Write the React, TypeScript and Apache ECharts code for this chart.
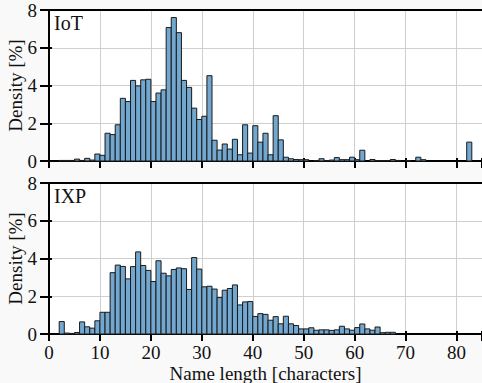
import React, { useEffect, useRef } from "react";
import * as echarts from "echarts";

// Histogram densities [%] per 1-character bin, index = bin start
const iotDensity = [
  0, 0, 0.03, 0.03, 0.03, 0.1, 0.03, 0.14, 0.05, 0.37,
  0.3, 1.47, 1.4, 1.92, 3.32, 3.15, 4.27, 3.98, 4.3, 4.33,
  3.15, 3.6, 3.77, 7.07, 7.6, 6.8, 4.27, 3.9, 2.8, 2.2,
  2.37, 4.52, 1.1, 0.58, 0.9, 0.63, 1.15, 0.33, 1.92, 0.42,
  1.87, 1.0, 1.47, 0.33, 2.4, 1.12, 0.2, 0.12, 0.08, 0.07,
  0.07, 0, 0.02, 0.12, 0.02, 0.05, 0.18, 0.07, 0.07, 0.2,
  0.07, 0.57, 0, 0.08, 0.02, 0.02, 0.02, 0.08, 0.03, 0,
  0.02, 0, 0.2, 0.07, 0, 0, 0, 0, 0, 0,
  0, 0, 1.0,
];
const ixpDensity = [
  0, 0, 0.66, 0.05, 0.03, 0.08, 0.64, 0.38, 0.31, 0.7,
  1.15, 1.15, 3.25, 3.65, 3.58, 2.92, 3.57, 4.35, 3.63, 3.37,
  2.78, 3.88, 3.22, 3.08, 3.42, 3.5, 3.46, 2.36, 4.05, 3.44,
  2.5, 2.53, 2.38, 1.93, 2.32, 2.41, 2.6, 1.54, 1.7, 1.72,
  0.93, 1.08, 1.04, 0.73, 0.92, 0.54, 0.94, 0.54, 0.45, 0.27,
  0.27, 0.33, 0.2, 0.22, 0.22, 0.19, 0.22, 0.41, 0.27, 0.2,
  0.34, 0.53, 0.27, 0.2, 0.37, 0.07, 0.09, 0.09,
];
const panelLabels = ["IoT", "IXP"];
const xTicks = [0, 10, 20, 30, 40, 50, 60, 70, 80];
const yTicks = [0, 2, 4, 6, 8];
const xName = "Name length [characters]";
const yName = "Density [%]";

const FONT = "'Liberation Serif', 'DejaVu Serif', serif";
const FS = 19;
const BAR_FILL = "#72a7cf";

function toData(arr: number[]) {
  const out: number[][] = [];
  arr.forEach((v, i) => {
    if (v > 0) out.push([i, v]);
  });
  return out;
}

export default function App() {
  const ref = useRef<HTMLDivElement>(null);
  useEffect(() => {
    if (!ref.current) return;
    const chart = echarts.init(ref.current, null, { renderer: "svg" });
    const grids = [
      { left: 49, right: 0, top: 10, height: 151 },
      { left: 49, right: 0, top: 183, height: 151 },
    ];
    const xMin = xTicks[0];
    const xMax = 85;
    const xAxes: any[] = [];
    const yAxes: any[] = [];
    const tickStyle = { color: "#000", width: 2 };
    grids.forEach((_, gi) => {
      // main bottom axis (outer ticks + labels)
      xAxes.push({
        type: "value",
        gridIndex: gi,
        min: xMin,
        max: xMax,
        interval: 10,
        position: "bottom",
        name: gi === 1 ? xName : "",
        nameLocation: "middle",
        nameGap: 30,
        nameMoveOverlap: false,
        nameTextStyle: { fontFamily: FONT, fontSize: FS, color: "#111" },
        axisLine: { show: true, onZero: false, lineStyle: { color: "#000", width: 2 } },
        axisTick: { show: true, length: 7, lineStyle: tickStyle },
        axisLabel: {
          show: gi === 1,
          margin: 9,
          fontFamily: FONT,
          fontSize: FS,
          color: "#111",
          formatter: (v: number) => (xTicks.includes(v) ? String(v) : ""),
        },
        splitLine: { show: true, lineStyle: { color: "#cfcfcf", width: 1 } },
      });
      // top spine
      xAxes.push({
        type: "value",
        gridIndex: gi,
        min: xMin,
        max: xMax,
        position: "top",
        axisLine: { show: true, onZero: false, lineStyle: { color: "#000", width: 2 } },
        axisTick: { show: false },
        axisLabel: { show: false },
        splitLine: { show: false },
      });
      // inner part of the crossing x ticks
      xAxes.push({
        type: "value",
        gridIndex: gi,
        min: xMin,
        max: xMax,
        interval: 10,
        position: "bottom",
        axisLine: { show: false, onZero: false },
        axisTick: { show: true, inside: true, length: 3, lineStyle: tickStyle },
        axisLabel: { show: false },
        splitLine: { show: false },
      });
      yAxes.push({
        type: "value",
        gridIndex: gi,
        min: yTicks[0],
        max: yTicks[yTicks.length - 1],
        interval: 2,
        name: yName,
        nameLocation: "middle",
        nameGap: 24,
        nameRotate: 90,
        nameMoveOverlap: false,
        nameTextStyle: { fontFamily: FONT, fontSize: FS, color: "#111" },
        axisLine: { show: true, lineStyle: { color: "#000", width: 2 } },
        axisTick: { show: true, length: 9, lineStyle: tickStyle },
        axisLabel: {
          margin: 12,
          fontFamily: FONT,
          fontSize: FS,
          color: "#111",
          formatter: (v: number) => (yTicks.includes(v) ? String(v) : ""),
        },
        splitLine: { show: true, lineStyle: { color: "#cfcfcf", width: 1 } },
      });
      yAxes.push({
        type: "value",
        gridIndex: gi,
        min: yTicks[0],
        max: yTicks[yTicks.length - 1],
        interval: 2,
        position: "left",
        offset: 0,
        axisLine: { show: false },
        axisTick: { show: true, inside: true, length: 3, lineStyle: tickStyle },
        axisLabel: { show: false },
        splitLine: { show: false },
      });
    });
    const renderItem = (params: any, api: any) => {
      const x0 = api.value(0);
      const v = api.value(1);
      const p0 = api.coord([x0, v]);
      const p1 = api.coord([x0 + 1, 0]);
      return {
        type: "rect",
        shape: { x: p0[0], y: p0[1], width: p1[0] - p0[0], height: p1[1] - p0[1] },
        style: { fill: BAR_FILL, stroke: "#1a1a1a", lineWidth: 1 },
      };
    };
    chart.setOption({
      animation: false,
      backgroundColor: "#f9f9f9",
      textStyle: { fontFamily: FONT },
      grid: grids.map((g) => ({
        ...g,
        show: true,
        backgroundColor: "#ffffff",
        borderWidth: 0,
        containLabel: false,
        outerBoundsMode: "none",
      })),
      xAxis: xAxes,
      yAxis: yAxes,
      series: [
        {
          type: "custom",
          xAxisIndex: 0,
          yAxisIndex: 0,
          renderItem,
          data: toData(iotDensity),
          encode: { x: 0, y: 1 },
        },
        {
          type: "custom",
          xAxisIndex: 3,
          yAxisIndex: 2,
          renderItem,
          data: toData(ixpDensity),
          encode: { x: 0, y: 1 },
        },
      ],
      graphic: panelLabels.map((t, i) => ({
        type: "text",
        left: 54,
        top: grids[i].top + 3,
        z: 100,
        style: { text: t, fontFamily: FONT, fontSize: FS + 1, fill: "#111" },
      })),
    });
    return () => chart.dispose();
  }, []);
  return (
    <div
      ref={ref}
      style={{ position: "absolute", left: 0, top: 0, width: 482, height: 383 }}
    />
  );
}
